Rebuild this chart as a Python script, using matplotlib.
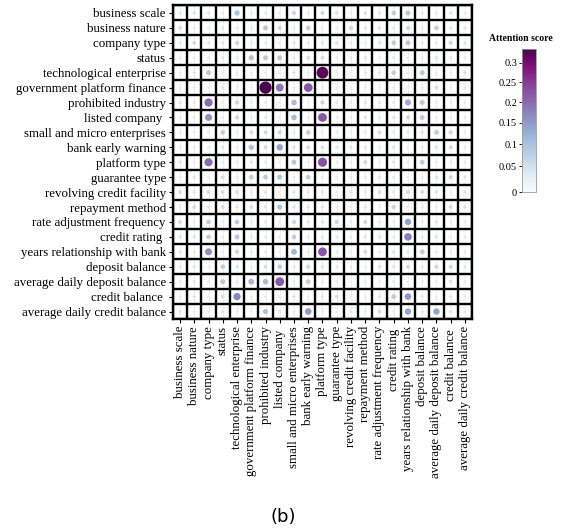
import matplotlib
matplotlib.use("Agg")
import matplotlib.pyplot as plt
import matplotlib.colors as mcolors
import numpy as np

plt.rcParams["font.family"] = ["Liberation Serif", "DejaVu Serif"]

features = ["business scale", "business nature", "company type", "status",
            "technological enterprise", "government platform finance",
            "prohibited industry", "listed company ", "small and micro enterprises",
            "bank early warning", "platform type", "guarantee type",
            "revolving credit facility", "repayment method",
            "rate adjustment frequency", "credit rating ",
            "years relationship with bank", "deposit balance",
            "average daily deposit balance", "credit balance ",
            "average daily credit balance"]

# attention scores, row = query feature (y), column = key feature (x)
r00 = [0.035, 0.04, 0.035, 0.03, 0.1, 0.03, 0.03, 0.03, 0.065, 0.03, 0.06, 0.045, 0.03, 0.045, 0.04, 0.08, 0.09, 0.03, 0.03, 0.04, 0.03]
r01 = [0.055, 0.03, 0.03, 0.035, 0.035, 0.03, 0.09, 0.065, 0.03, 0.08, 0.03, 0.03, 0.065, 0.04, 0.04, 0.03, 0.065, 0.03, 0.08, 0.04, 0.04]
r02 = [0.03, 0.055, 0.035, 0.04, 0.065, 0.03, 0.03, 0.03, 0.04, 0.03, 0.04, 0.045, 0.03, 0.03, 0.04, 0.08, 0.09, 0.03, 0.03, 0.065, 0.04]
r03 = [0.03, 0.03, 0.03, 0.04, 0.03, 0.1, 0.09, 0.09, 0.03, 0.055, 0.055, 0.03, 0.035, 0.04, 0.03, 0.035, 0.03, 0.03, 0.04, 0.04, 0.03]
r04 = [0.03, 0.04, 0.09, 0.03, 0.03, 0.03, 0.03, 0.03, 0.04, 0.03, 0.32, 0.03, 0.03, 0.04, 0.04, 0.08, 0.03, 0.09, 0.03, 0.03, 0.045]
r05 = [0.03, 0.03, 0.03, 0.04, 0.03, 0.03, 0.335, 0.19, 0.03, 0.22, 0.03, 0.03, 0.03, 0.03, 0.03, 0.03, 0.03, 0.03, 0.055, 0.03, 0.03]
r06 = [0.04, 0.035, 0.2, 0.03, 0.065, 0.03, 0.03, 0.03, 0.11, 0.03, 0.065, 0.035, 0.035, 0.04, 0.035, 0.035, 0.13, 0.09, 0.03, 0.03, 0.03]
r07 = [0.03, 0.03, 0.16, 0.03, 0.065, 0.03, 0.03, 0.03, 0.11, 0.03, 0.22, 0.03, 0.03, 0.04, 0.03, 0.04, 0.065, 0.085, 0.03, 0.03, 0.03]
r08 = [0.03, 0.03, 0.03, 0.08, 0.03, 0.055, 0.06, 0.065, 0.03, 0.08, 0.03, 0.03, 0.03, 0.03, 0.055, 0.03, 0.04, 0.04, 0.085, 0.065, 0.03]
r09 = [0.03, 0.03, 0.03, 0.04, 0.03, 0.1, 0.055, 0.14, 0.04, 0.055, 0.045, 0.04, 0.04, 0.04, 0.03, 0.04, 0.03, 0.03, 0.04, 0.06, 0.03]
r10 = [0.04, 0.03, 0.2, 0.03, 0.035, 0.04, 0.03, 0.03, 0.09, 0.03, 0.23, 0.03, 0.03, 0.06, 0.03, 0.04, 0.03, 0.085, 0.03, 0.03, 0.03]
r11 = [0.03, 0.04, 0.03, 0.055, 0.03, 0.08, 0.085, 0.095, 0.03, 0.08, 0.03, 0.03, 0.04, 0.035, 0.04, 0.035, 0.03, 0.03, 0.045, 0.065, 0.04]
r12 = [0.055, 0.04, 0.055, 0.055, 0.055, 0.04, 0.04, 0.03, 0.04, 0.04, 0.04, 0.03, 0.045, 0.04, 0.055, 0.035, 0.055, 0.055, 0.045, 0.03, 0.04]
r13 = [0.03, 0.055, 0.04, 0.055, 0.04, 0.055, 0.04, 0.1, 0.04, 0.04, 0.04, 0.03, 0.03, 0.04, 0.03, 0.07, 0.03, 0.03, 0.035, 0.06, 0.045]
r14 = [0.055, 0.03, 0.08, 0.03, 0.08, 0.03, 0.035, 0.03, 0.065, 0.04, 0.04, 0.065, 0.035, 0.06, 0.035, 0.03, 0.14, 0.03, 0.04, 0.03, 0.03]
r15 = [0.04, 0.04, 0.08, 0.03, 0.09, 0.03, 0.03, 0.03, 0.08, 0.03, 0.04, 0.035, 0.035, 0.04, 0.04, 0.03, 0.18, 0.035, 0.04, 0.03, 0.03]
r16 = [0.04, 0.03, 0.16, 0.03, 0.065, 0.03, 0.03, 0.03, 0.12, 0.03, 0.22, 0.03, 0.03, 0.06, 0.03, 0.04, 0.04, 0.085, 0.03, 0.03, 0.03]
r17 = [0.03, 0.04, 0.03, 0.08, 0.04, 0.03, 0.055, 0.08, 0.03, 0.065, 0.04, 0.035, 0.035, 0.03, 0.045, 0.04, 0.06, 0.035, 0.065, 0.06, 0.04]
r18 = [0.03, 0.035, 0.03, 0.09, 0.035, 0.12, 0.11, 0.22, 0.03, 0.08, 0.03, 0.03, 0.03, 0.03, 0.03, 0.035, 0.03, 0.03, 0.03, 0.045, 0.03]
r19 = [0.03, 0.04, 0.03, 0.055, 0.17, 0.03, 0.03, 0.035, 0.04, 0.03, 0.04, 0.055, 0.03, 0.035, 0.04, 0.085, 0.15, 0.035, 0.03, 0.045, 0.03]
r20 = [0.04, 0.03, 0.03, 0.04, 0.03, 0.03, 0.1, 0.04, 0.03, 0.15, 0.03, 0.03, 0.04, 0.03, 0.055, 0.03, 0.14, 0.03, 0.14, 0.04, 0.03]

cbar_ticks = [0, 0.05, 0.1, 0.15, 0.2, 0.25, 0.3]

scores = np.array([r00, r01, r02, r03, r04, r05, r06, r07, r08, r09, r10,
                   r11, r12, r13, r14, r15, r16, r17, r18, r19, r20])
n = len(features)

fig = plt.figure(figsize=(5.61, 5.32), dpi=100)
ax = fig.add_axes([0.3082, 0.4004, 0.5333, 0.5893])

xx, yy = np.meshgrid(np.arange(n), np.arange(n))
norm = mcolors.PowerNorm(gamma=0.9, vmin=0, vmax=0.335)
cmap = plt.get_cmap("BuPu")

# dot diameter grows linearly with the score (px -> pt)
diam = (2.2 + 30 * scores) * 0.72
sc = ax.scatter(xx.ravel(), yy.ravel(), s=(diam ** 2).ravel(), c=scores.ravel(),
                cmap=cmap, norm=norm, edgecolors="none", zorder=3)

ax.set_xlim(-0.5, n - 0.5)
ax.set_ylim(n - 0.5, -0.5)

# faint centre lines + black cell borders
for i in range(n):
    ax.axvline(i, color="#ececec", lw=0.6, zorder=1)
for i in range(n + 1):
    ax.axvline(i - 0.5, color="black", lw=1.7, zorder=2)
    ax.axhline(i - 0.5, color="black", lw=1.7, zorder=2)

ax.set_xticks(np.arange(n))
ax.set_yticks(np.arange(n))
ax.set_xticklabels(features, rotation=90, fontsize=9.3)
ax.set_yticklabels(features, fontsize=9.3)
ax.tick_params(length=3, width=0.8, pad=2)
for s in ax.spines.values():
    s.set_linewidth(1.7)

cax = fig.add_axes([0.9305, 0.6385, 0.025, 0.2694])
cb = fig.colorbar(sc, cax=cax, ticks=cbar_ticks)
cb.ax.set_yticklabels(["0", "0.05", "0.1", "0.15", "0.2", "0.25", "0.3"])
cb.ax.yaxis.set_ticks_position("left")
cb.ax.yaxis.set_label_position("left")
cb.ax.tick_params(labelsize=7.5, length=2.5, width=0.6, pad=1)
cb.outline.set_edgecolor("#999999")
cb.outline.set_linewidth(0.6)
fig.text(0.928, 0.927, "Attention score", ha="center", va="center",
         fontsize=7, fontweight="bold")

fig.text(0.505, 0.028, "(b)", ha="center", va="center", fontsize=13,
         family="DejaVu Sans")

fig.savefig("out.png", dpi=100)
